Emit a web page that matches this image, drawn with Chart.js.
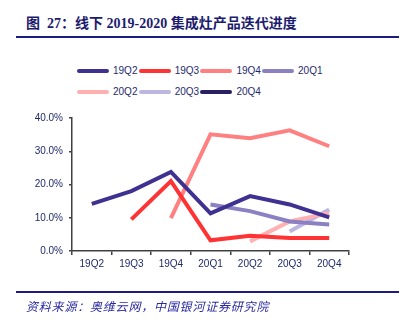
<!DOCTYPE html>
<html>
<head>
<meta charset="utf-8">
<script src="https://cdn.jsdelivr.net/npm/chart.js@4.4.0/dist/chart.umd.min.js"></script>
<style>
body{margin:0;width:409px;height:330px;background:#fff;position:relative;overflow:hidden;font-family:"Liberation Sans",Arial,sans-serif;}
#title{position:absolute;left:26px;top:15px;line-height:18px;font-weight:bold;font-size:14px;font-family:"Liberation Serif","Noto Sans CJK SC",serif;color:#1c1c6e;white-space:nowrap;}
.rule{position:absolute;left:16px;width:383px;height:2px;background:#1c1c80;}
#legend{position:absolute;left:77px;top:60px;width:260px;}
.item{display:inline-flex;align-items:center;width:61.7px;height:21px;font-size:10px;color:#1f2a6b;vertical-align:top;}
.swatch{width:32px;height:4px;border-radius:2px;margin-right:4px;}
#source{position:absolute;left:26px;top:297px;line-height:17px;font-size:12px;letter-spacing:0.8px;font-style:italic;font-family:"Noto Sans CJK SC",sans-serif;color:#2a2aa0;white-space:nowrap;}
canvas{position:absolute;left:0;top:0;}
</style>
</head>
<body>
<div id="title">图&nbsp; 27：线下 2019-2020 集成灶产品迭代进度</div>
<div class="rule" style="top:36px"></div>
<div id="legend"></div>
<canvas id="iterChart" width="409" height="330"></canvas>
<div class="rule" style="top:291px"></div>
<div id="source">资料来源：奥维云网，中国银河证券研究院</div>
<script>
// ---------------- data ----------------
const quarters = ['19Q2', '19Q3', '19Q4', '20Q1', '20Q2', '20Q3', '20Q4'];
const seriesNames = ['19Q2', '19Q3', '19Q4', '20Q1', '20Q2', '20Q3', '20Q4'];

// share (%) of each launch cohort by quarter
const line19Q2 = [14.2, 18.0, 23.8, 11.3, 16.5, 14.0, 10.1];
const line19Q3 = [null, 9.5, 21.0, 3.2, 4.6, 3.9, 3.9];
const line19Q4 = [null, null, 9.9, 35.1, 33.9, 36.3, 31.5];
const line20Q1 = [null, null, null, 14.0, 12.0, 8.9, 8.0];
const line20Q2 = [null, null, null, null, 2.9, 8.9, 11.4];
const line20Q3 = [null, null, null, null, null, 5.9, 12.5];
const line20Q4 = [null, null, null, null, null, null, null];

const seriesColors = ['#3f3192', '#ff3333', '#ff8080', '#8a80c2', '#ffb0b0', '#bdb6e0', '#2a2060'];
const navy = '#1f2a6b';

// ---------------- chart ----------------
const allSeries = [line19Q2, line19Q3, line19Q4, line20Q1, line20Q2, line20Q3, line20Q4];

const datasets = allSeries.map((vals, i) => ({
	label: seriesNames[i],
	data: vals,
	borderColor: seriesColors[i],
	backgroundColor: seriesColors[i],
	borderWidth: 4,
	pointRadius: 0,
	tension: 0,
	spanGaps: false
}));

const ctx = document.getElementById('iterChart').getContext('2d');

new Chart(ctx, {
	type: 'line',
	data: { labels: quarters, datasets: datasets },
	options: {
		responsive: false,
		animation: false,
		devicePixelRatio: 1,
		layout: { padding: { left: 0, top: 118, right: 60, bottom: 49 } },
		plugins: { legend: { display: false }, tooltip: { enabled: false } },
		scales: {
			x: {
				offset: true,
				grid: { offset: true, drawOnChartArea: false, tickLength: 4, color: '#404040', lineWidth: 1.5 },
				border: { color: '#404040', width: 1.5 },
				ticks: { color: navy, font: { size: 10, family: 'Liberation Sans' }, padding: 3, maxRotation: 0 },
				afterFit: s => { s.height = 30; }
			},
			y: {
				min: 0,
				max: 40,
				grid: { drawOnChartArea: false, tickLength: 3, color: '#404040', lineWidth: 1.5 },
				border: { color: '#404040', width: 1.5 },
				ticks: {
					stepSize: 10,
					color: navy,
					font: { size: 10, family: 'Liberation Sans' },
					padding: 6,
					callback: v => v.toFixed(1) + '%'
				},
				afterFit: s => { s.width = 72; }
			}
		}
	}
});

// legend in two rows, built from the same names and colours
const legendBox = document.getElementById('legend');
seriesNames.forEach((name, i) => {
	const item = document.createElement('span');
	item.className = 'item';
	item.innerHTML = `<span class="swatch" style="background:${seriesColors[i]}"></span>${name}`;
	legendBox.appendChild(item);
});
</script>
</body>
</html>
